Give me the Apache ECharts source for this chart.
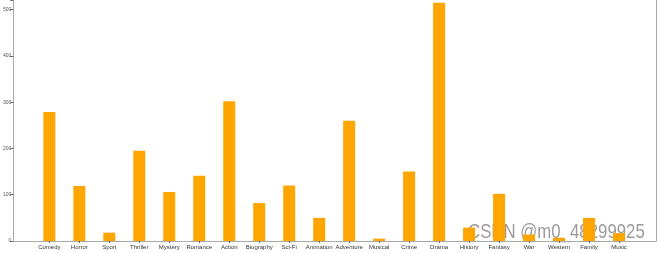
<!DOCTYPE html>
<html><head><meta charset="utf-8">
<script src="https://cdn.jsdelivr.net/npm/echarts@6/dist/echarts.min.js"></script>
<style>html,body{margin:0;padding:0;background:#fff}#c{width:660px;height:253px}</style>
</head><body><div id="c"></div>
<script>
const categories = ["Comedy","Horror","Sport","Thriller","Mystery","Romance","Action","Biography","Sci-Fi","Animation","Adventure","Musical","Crime","Drama","History","Fantasy","War","Western","Family","Music"];
const counts = [279,119,18,195,106,141,302,82,120,50,260,5,150,515,29,102,14,7,50,17];
const yTicks = [0,100,200,300,400,500];

const chart = echarts.init(document.getElementById('c'), null, {renderer:'canvas'});
const axisColor = '#aaa';
chart.setOption({
  animation:false,
  grid:[
    {left:34, right:26, top:0, bottom:12},
    {left:13, right:4, top:0, bottom:12}
  ],
  xAxis:[
    {type:'category', data:categories, gridIndex:0,
     axisLine:{show:false},
     axisTick:{show:true, alignWithLabel:true, length:2, lineStyle:{color:'#666'}},
     axisLabel:{fontSize:6, color:'#333', margin:3, interval:0, fontFamily:'Liberation Sans, Arial, sans-serif'}},
    {type:'value', gridIndex:1, min:0, max:1,
     axisLine:{show:true, onZero:false, lineStyle:{color:axisColor, width:1}},
     axisTick:{show:false}, axisLabel:{show:false}, splitLine:{show:false}}
  ],
  yAxis:[
    {type:'value', gridIndex:0, min:0, max:521, interval:100, offset:21,
     axisLine:{show:true, lineStyle:{color:axisColor}},
     axisTick:{show:true, length:3, lineStyle:{color:'#666'}},
     axisLabel:{fontSize:5, color:'#555', margin:2, fontFamily:'Liberation Sans, Arial, sans-serif',
       formatter:function(v){return yTicks.indexOf(v)>=0 ? String(v) : '';}},
     splitLine:{show:false}},
    {type:'value', gridIndex:1, position:'right', min:0, max:1,
     axisLine:{show:true, onZero:false, lineStyle:{color:axisColor}},
     axisTick:{show:false}, axisLabel:{show:false}, splitLine:{show:false}}
  ],
  series:[{
    type:'bar', xAxisIndex:0, yAxisIndex:0, data:counts,
    barWidth:12, itemStyle:{color:'#FFA500'}
  }],
  graphic:[{
    type:'text', x:468, y:222, scaleX:0.8, silent:true,
    style:{text:'CSDN @m0_48299925', fontSize:21, fontFamily:'Liberation Sans, Arial, sans-serif',
      fill:'rgba(120,120,120,0.75)', stroke:'rgba(255,255,255,0.8)', lineWidth:1}
  }]
});
</script></body></html>
